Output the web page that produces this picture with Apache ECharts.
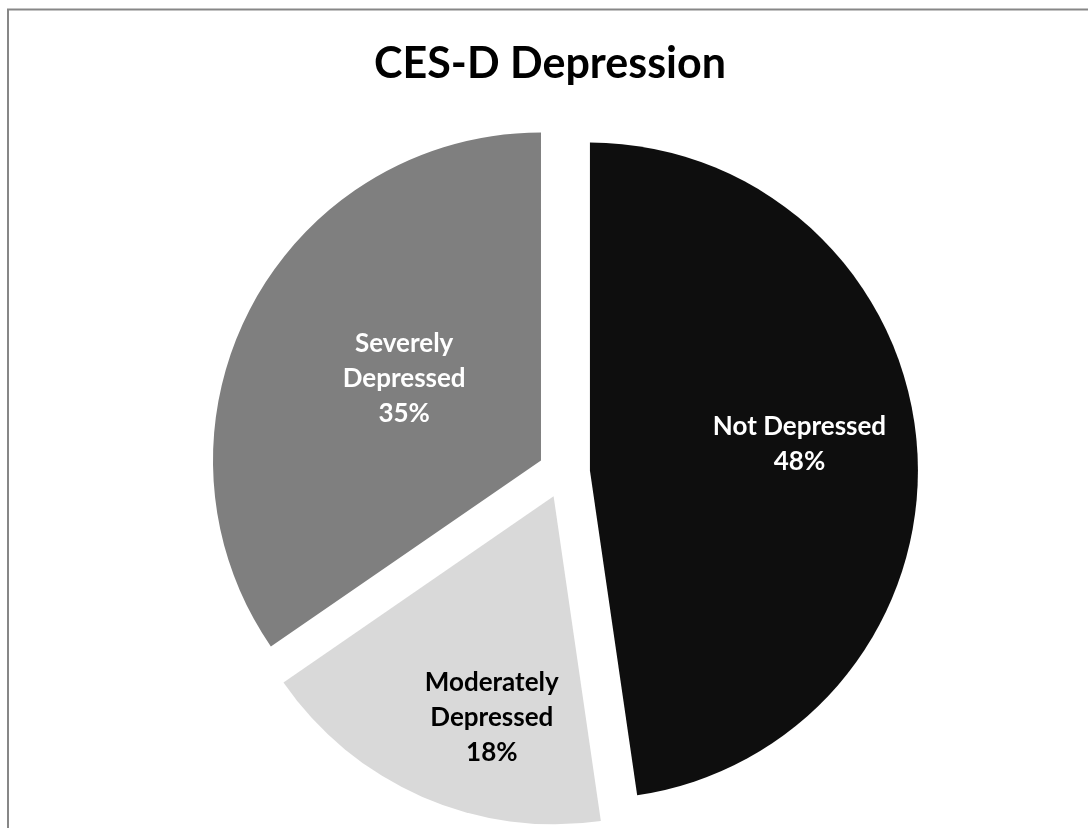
<!DOCTYPE html>
<html>
<head>
<meta charset="utf-8">
<script src="https://cdn.jsdelivr.net/npm/echarts@6/dist/echarts.min.js"></script>
<style>
html,body{margin:0;padding:0;background:#fff;}
#chart{width:1088px;height:828px;}
</style>
</head>
<body>
<div id="chart"></div>
<script>
const titleText = 'CES-D Depression';
const categories = ['Not Depressed', 'Moderately\nDepressed', 'Severely\nDepressed'];
const values = [47.7, 17.7, 34.6];
const colors = ['#0e0e0e', '#d9d9d9', '#7f7f7f'];
const labelColors = ['#ffffff', '#000000', '#ffffff'];
const labelShift = [[43, -14], [5, 68], [11, -4]];

const total = values.reduce((a, b) => a + b, 0);
const chart = echarts.init(document.getElementById('chart'), null, {renderer: 'canvas'});
chart.setOption({
  animation: false,
  backgroundColor: '#ffffff',
  title: {
    text: titleText,
    left: 550,
    top: 43,
    padding: 0,
    textAlign: 'center',
    textStyle: {fontFamily: 'Lato', fontWeight: 'bold', fontSize: 43, color: '#000'}
  },
  graphic: [{
    type: 'rect',
    shape: {x: 8, y: 9.5, width: 1200, height: 1000},
    style: {fill: 'none', stroke: '#878787', lineWidth: 2},
    silent: true
  }],
  series: [{
    type: 'pie',
    center: [564, 472.5],
    radius: 328,
    startAngle: 90,
    clockwise: true,
    selectedMode: 'multiple',
    selectedOffset: 26,
    avoidLabelOverlap: false,
    labelLine: {show: false},
    emphasis: {disabled: true},
    data: categories.map((c, i) => ({
      name: c,
      value: values[i],
      selected: true,
      itemStyle: {color: colors[i]},
      label: {color: labelColors[i]}
    })),
    label: {
      show: true,
      position: 'inside',
      fontFamily: 'Lato',
      fontWeight: 'bold',
      fontSize: 26,
      lineHeight: 35,
      align: 'center',
      formatter: p => p.name + '\n' + Math.round(p.value / total * 100) + '%'
    },
    labelLayout: p => ({dx: labelShift[p.dataIndex][0], dy: labelShift[p.dataIndex][1]})
  }]
});
</script>
</body>
</html>
